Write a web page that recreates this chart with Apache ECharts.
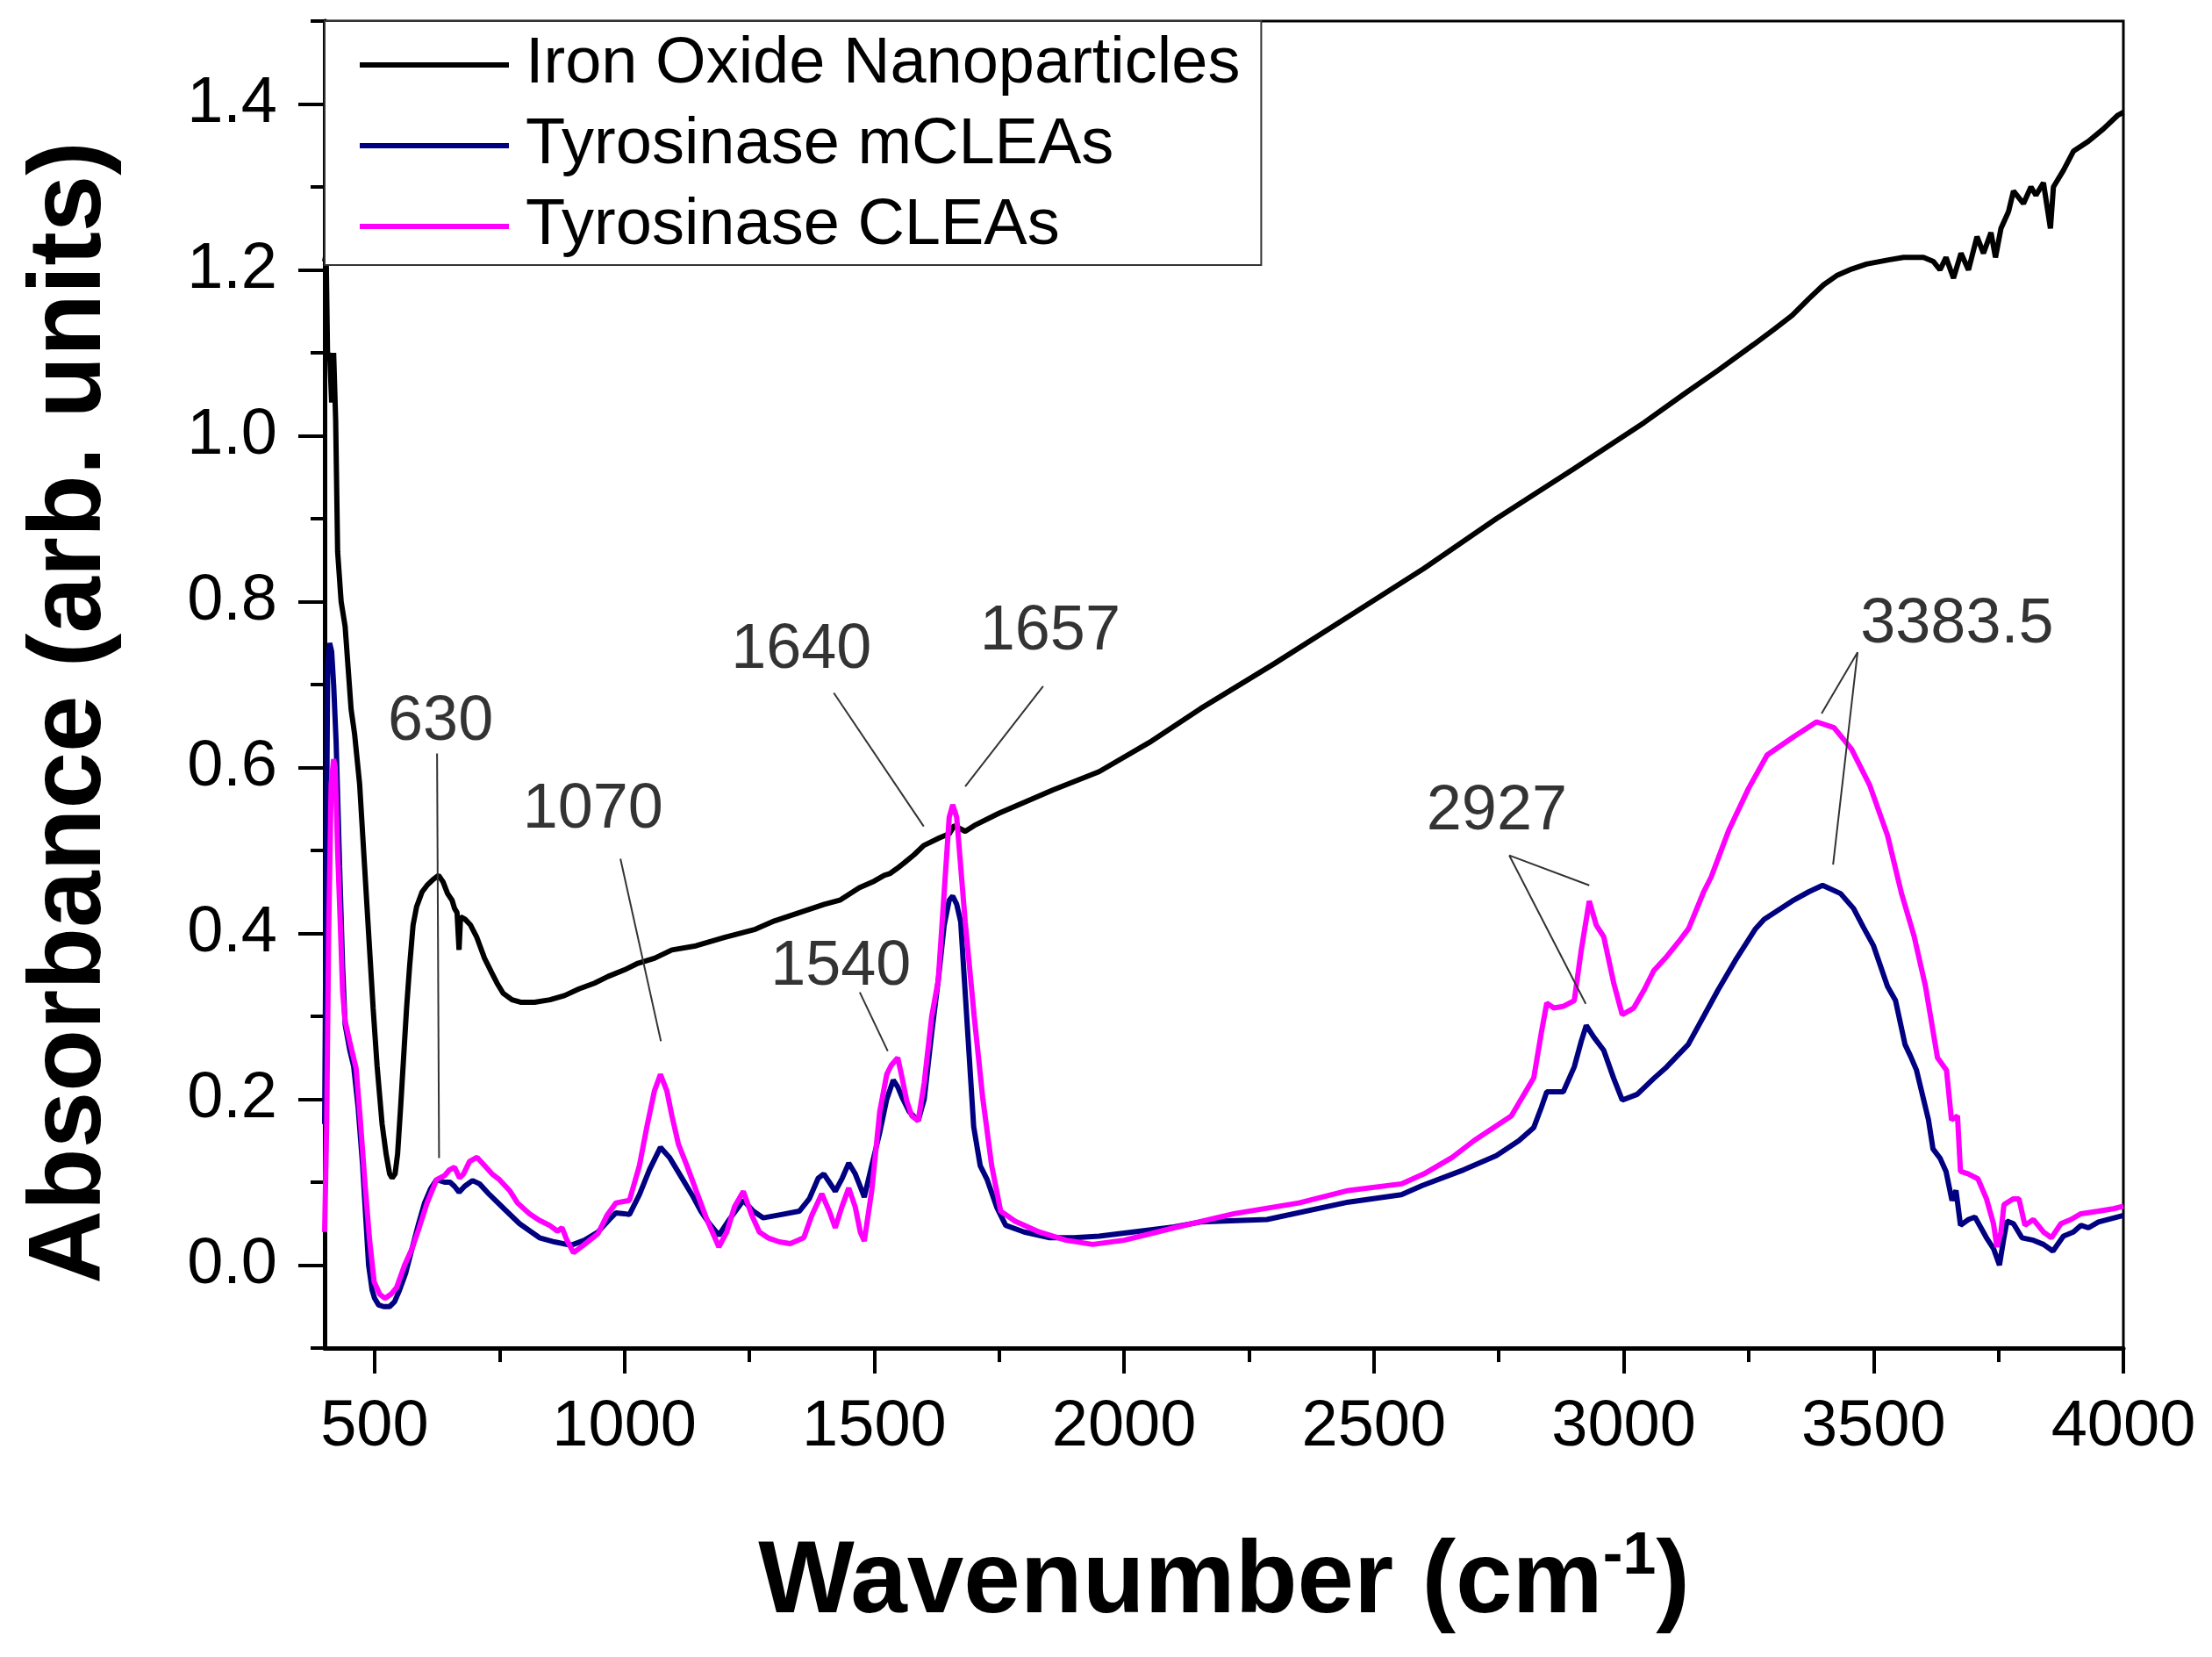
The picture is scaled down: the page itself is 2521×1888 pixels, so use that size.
<!DOCTYPE html>
<html>
<head>
<meta charset="utf-8">
<title>FTIR spectra</title>
<script src="https://cdn.jsdelivr.net/npm/echarts@6/dist/echarts.min.js"></script>
<style>
  html, body { margin: 0; padding: 0; background: #fff; }
  #chart { width: 2521px; height: 1888px; }
</style>
</head>
<body>
<div id="chart"></div>
<script>
// wavenumber (cm-1), absorbance
const ironOxide = [
  [400, 1.21], [403, 1.22], [406, 1.09], [410, 1.10], [414, 1.04], [418, 1.10], [422, 1.02],
  [426, 0.86], [433, 0.80], [441, 0.77], [447, 0.72], [453, 0.67], [460, 0.64], [470, 0.58],
  [480, 0.48], [488, 0.40], [497, 0.31], [505, 0.24], [515, 0.17], [523, 0.134], [530, 0.11],
  [535, 0.105], [541, 0.11], [546, 0.134], [552, 0.19], [558, 0.25], [564, 0.31], [570, 0.36],
  [577, 0.41], [584, 0.432], [595, 0.45], [605, 0.458], [617, 0.465], [628, 0.47], [637, 0.462],
  [646, 0.448], [655, 0.44], [660, 0.43], [665, 0.425], [669, 0.38], [672, 0.42], [681, 0.417],
  [692, 0.41], [704, 0.396], [720, 0.37], [734, 0.353], [745, 0.34], [757, 0.328], [775, 0.32],
  [792, 0.317], [820, 0.317], [851, 0.32], [880, 0.325], [909, 0.333], [940, 0.34], [967, 0.348],
  [1000, 0.356], [1027, 0.364], [1060, 0.37], [1095, 0.38], [1143, 0.385], [1200, 0.395],
  [1262, 0.405], [1300, 0.415], [1350, 0.425], [1400, 0.435], [1431, 0.44], [1470, 0.455],
  [1500, 0.463], [1520, 0.47], [1531, 0.472], [1545, 0.478], [1560, 0.485], [1580, 0.495],
  [1599, 0.506], [1630, 0.515], [1650, 0.52], [1660, 0.53], [1682, 0.523], [1700, 0.53],
  [1750, 0.545], [1800, 0.558], [1858, 0.573], [1950, 0.595], [2050, 0.63], [2153, 0.671],
  [2300, 0.725], [2449, 0.782], [2600, 0.84], [2745, 0.9], [2900, 0.96], [3041, 1.016],
  [3120, 1.05], [3189, 1.079], [3260, 1.11], [3300, 1.128], [3337, 1.145], [3370, 1.165],
  [3400, 1.182], [3426, 1.193], [3456, 1.201], [3486, 1.207], [3530, 1.212], [3560, 1.215],
  [3600, 1.215], [3620, 1.21], [3633, 1.20],
  [3645, 1.215], [3660, 1.19], [3675, 1.22], [3690, 1.20], [3707, 1.24], [3720, 1.22],
  [3735, 1.245], [3744, 1.215], [3755, 1.25], [3770, 1.27], [3780, 1.295], [3800, 1.28],
  [3815, 1.30], [3825, 1.29], [3840, 1.305], [3854, 1.25], [3860, 1.30], [3880, 1.32],
  [3900, 1.343], [3930, 1.355], [3960, 1.37], [3988, 1.386], [4000, 1.39]
];

const mCleas = [
  [400, 0.17], [403, 0.45], [406, 0.72], [410, 0.75], [414, 0.74], [418, 0.70], [423, 0.63],
  [430, 0.48], [436, 0.36], [441, 0.29], [450, 0.26], [458, 0.24], [467, 0.19], [476, 0.12],
  [482, 0.06], [488, 0.0], [495, -0.03], [500, -0.04], [508, -0.048], [518, -0.05], [530, -0.05],
  [540, -0.044], [550, -0.03], [562, -0.01], [575, 0.02], [588, 0.05], [600, 0.075], [612, 0.092],
  [624, 0.103], [640, 0.1], [651, 0.1], [660, 0.095], [669, 0.088], [680, 0.095], [696, 0.102],
  [710, 0.098], [730, 0.085], [759, 0.068], [790, 0.05], [830, 0.033], [860, 0.028], [893, 0.024],
  [920, 0.03], [947, 0.04], [970, 0.055], [983, 0.063], [1000, 0.062], [1010, 0.061],
  [1030, 0.085], [1050, 0.115], [1072, 0.142], [1090, 0.13], [1117, 0.103], [1135, 0.085],
  [1153, 0.065], [1170, 0.05], [1189, 0.036], [1210, 0.055], [1238, 0.078], [1258, 0.065],
  [1278, 0.057], [1314, 0.061], [1350, 0.065], [1370, 0.08], [1388, 0.105], [1399, 0.11],
  [1410, 0.1], [1422, 0.089], [1436, 0.105], [1449, 0.123], [1462, 0.11], [1475, 0.09],
  [1480, 0.082], [1495, 0.12], [1511, 0.16], [1525, 0.2], [1538, 0.223], [1547, 0.215],
  [1556, 0.202], [1570, 0.185], [1588, 0.174], [1600, 0.2], [1615, 0.28], [1628, 0.343],
  [1640, 0.41], [1650, 0.44], [1657, 0.445], [1665, 0.435], [1673, 0.414], [1685, 0.3],
  [1699, 0.167], [1712, 0.12], [1726, 0.103], [1745, 0.07], [1763, 0.048], [1800, 0.04],
  [1851, 0.033], [1900, 0.033], [1950, 0.035], [2018, 0.04], [2100, 0.046], [2153, 0.052],
  [2286, 0.055], [2449, 0.076], [2555, 0.085], [2597, 0.096], [2680, 0.115], [2745, 0.132],
  [2790, 0.15], [2820, 0.166], [2835, 0.19], [2846, 0.209], [2879, 0.209], [2901, 0.239],
  [2915, 0.27], [2925, 0.289], [2940, 0.275], [2960, 0.259], [2980, 0.225], [2997, 0.199],
  [3027, 0.206], [3060, 0.225], [3086, 0.239], [3129, 0.266], [3160, 0.3], [3189, 0.332],
  [3223, 0.367], [3263, 0.405], [3281, 0.417], [3337, 0.439], [3370, 0.45], [3398, 0.458],
  [3434, 0.448], [3460, 0.43], [3480, 0.407], [3500, 0.385], [3528, 0.336], [3544, 0.319],
  [3563, 0.266], [3574, 0.252], [3586, 0.235], [3600, 0.2], [3610, 0.175], [3619, 0.14],
  [3633, 0.129], [3645, 0.113], [3657, 0.078], [3665, 0.09], [3674, 0.048], [3690, 0.055],
  [3703, 0.058], [3715, 0.045], [3726, 0.033], [3740, 0.02], [3752, 0.0], [3760, 0.03],
  [3767, 0.053], [3780, 0.05], [3797, 0.033], [3820, 0.03], [3840, 0.025], [3859, 0.017],
  [3880, 0.035], [3900, 0.04], [3915, 0.048], [3930, 0.045], [3950, 0.052], [3975, 0.056],
  [4000, 0.06]
];

const cleas = [
  [400, 0.04], [404, 0.17], [408, 0.40], [413, 0.58], [418, 0.61], [421, 0.6], [426, 0.5],
  [432, 0.4], [436, 0.33], [441, 0.294], [450, 0.27], [463, 0.237], [472, 0.17], [481, 0.096],
  [490, 0.03], [499, -0.02], [510, -0.035], [521, -0.04], [533, -0.035], [544, -0.027], [560, 0.0],
  [575, 0.02], [588, 0.043], [605, 0.075], [624, 0.103], [640, 0.108], [650, 0.115], [660, 0.118],
  [670, 0.105], [678, 0.11], [690, 0.125], [705, 0.13], [720, 0.12], [735, 0.11], [750, 0.103],
  [770, 0.09], [786, 0.075], [810, 0.062], [830, 0.054], [850, 0.048], [866, 0.041], [875, 0.045],
  [885, 0.03], [898, 0.015], [920, 0.025], [947, 0.038], [965, 0.06], [983, 0.075], [1010, 0.078],
  [1030, 0.12], [1045, 0.167], [1060, 0.21], [1072, 0.23], [1085, 0.21], [1095, 0.18],
  [1108, 0.146], [1125, 0.12], [1144, 0.089], [1165, 0.055], [1189, 0.022], [1205, 0.04],
  [1220, 0.07], [1238, 0.089], [1255, 0.06], [1270, 0.04], [1287, 0.033], [1310, 0.028],
  [1332, 0.026], [1359, 0.033], [1375, 0.06], [1395, 0.086], [1410, 0.065], [1422, 0.045],
  [1435, 0.07], [1449, 0.093], [1462, 0.07], [1472, 0.04], [1480, 0.029], [1495, 0.09],
  [1511, 0.185], [1525, 0.23], [1534, 0.241], [1547, 0.25], [1556, 0.225], [1565, 0.198],
  [1575, 0.18], [1588, 0.174], [1600, 0.22], [1615, 0.3], [1628, 0.343], [1640, 0.45],
  [1650, 0.54], [1657, 0.555], [1665, 0.54], [1682, 0.414], [1700, 0.3], [1717, 0.202],
  [1735, 0.12], [1753, 0.065], [1782, 0.053], [1830, 0.04], [1884, 0.03], [1937, 0.025],
  [2000, 0.03], [2100, 0.045], [2220, 0.062], [2350, 0.075], [2449, 0.09], [2555, 0.098],
  [2600, 0.11], [2657, 0.13], [2700, 0.15], [2775, 0.18], [2820, 0.226], [2835, 0.28],
  [2846, 0.316], [2860, 0.31], [2879, 0.312], [2901, 0.319], [2915, 0.38], [2931, 0.439],
  [2945, 0.41], [2960, 0.396], [2980, 0.34], [2997, 0.302], [3020, 0.31], [3041, 0.332],
  [3060, 0.355], [3086, 0.372], [3110, 0.39], [3130, 0.406], [3160, 0.45], [3175, 0.468],
  [3210, 0.524], [3250, 0.575], [3287, 0.615], [3340, 0.637], [3386, 0.655], [3421, 0.648],
  [3456, 0.622], [3492, 0.579], [3528, 0.518], [3556, 0.448], [3581, 0.397], [3604, 0.336],
  [3628, 0.25], [3646, 0.235], [3656, 0.175], [3668, 0.18], [3674, 0.113], [3690, 0.11],
  [3709, 0.104], [3726, 0.08], [3740, 0.05], [3747, 0.022], [3755, 0.04], [3761, 0.073],
  [3780, 0.08], [3791, 0.08], [3803, 0.048], [3820, 0.055], [3840, 0.04], [3856, 0.033],
  [3875, 0.05], [3895, 0.055], [3915, 0.062], [3950, 0.065], [3980, 0.068], [4000, 0.071]
];

const seriesNames = ['Iron Oxide Nanoparticles', 'Tyrosinase mCLEAs', 'Tyrosinase CLEAs'];
const seriesColors = ['#000000', '#000080', '#ff00ff'];

const xMajorTicks = [500, 1000, 1500, 2000, 2500, 3000, 3500, 4000];
const xMinorTicks = [750, 1250, 1750, 2250, 2750, 3250, 3750];
const yMajorTicks = [0, 0.2, 0.4, 0.6, 0.8, 1.0, 1.2, 1.4];
const yMinorTicks = [-0.1, 0.1, 0.3, 0.5, 0.7, 0.9, 1.1, 1.3, 1.5];

// peak labels: text and where it sits (wavenumber, absorbance)
const peakLabels = [
  ['630', 632, 0.654],
  ['1070', 937, 0.548],
  ['1640', 1354, 0.741],
  ['1657', 1852, 0.763],
  ['1540', 1433, 0.359],
  ['2927', 2746, 0.546],
  ['3383.5', 3667, 0.772]
];

// leader lines from each label to its peak(s)
const leaders = [
  [[625, 0.617], [629, 0.129]],
  [[992, 0.49], [1073, 0.27]],
  [[1419, 0.690], [1599, 0.529]],
  [[1838, 0.698], [1682, 0.577]],
  [[1471, 0.329], [1527, 0.258]],
  [[2931, 0.458], [2771, 0.494], [2924, 0.315]],
  [[3396, 0.665], [3468, 0.739], [3419, 0.483]]
];

const FONT = '"Liberation Sans", Arial, sans-serif';

const chart = echarts.init(document.getElementById('chart'), null, { renderer: 'canvas' });

const spectra = [ironOxide, mCleas, cleas].map((data, i) => ({
  name: seriesNames[i],
  type: 'line',
  data: data,
  showSymbol: false,
  symbol: 'none',
  animation: false,
  lineStyle: { color: seriesColors[i], width: 6 },
  itemStyle: { color: seriesColors[i] },
  z: 3 + i
}));

const leaderSeries = leaders.map((pts) => ({
  type: 'line',
  data: pts,
  showSymbol: false,
  symbol: 'none',
  animation: false,
  silent: true,
  lineStyle: { color: '#333', width: 2 },
  z: 8
}));

const labelSeries = {
  type: 'scatter',
  data: peakLabels.map((p) => ({ name: p[0], value: [p[1], p[2]] })),
  symbolSize: 1,
  itemStyle: { color: 'rgba(0,0,0,0)' },
  animation: false,
  silent: true,
  label: {
    show: true,
    position: 'inside',
    formatter: (p) => p.name,
    fontFamily: FONT,
    fontSize: 72,
    color: '#000'
  },
  z: 9
};

const axisFont = { fontFamily: FONT, fontSize: 74, color: '#000' };

const option = {
  animation: false,
  backgroundColor: '#fff',
  grid: {
    left: 370, right: 101, top: 24, bottom: 352,
    show: true, borderColor: '#000', borderWidth: 3, backgroundColor: 'transparent'
  },
  legend: {
    data: seriesNames,
    orient: 'vertical',
    left: 370,
    top: 24,
    icon: 'rect',
    itemWidth: 170,
    itemHeight: 6,
    itemGap: 12,
    padding: [10, 24, 4, 40],
    borderColor: '#333',
    borderWidth: 2,
    backgroundColor: '#fff',
    textStyle: { fontFamily: FONT, fontSize: 74, color: '#000', lineHeight: 80, padding: [0, 0, 0, 14] }
  },
  xAxis: [
    {
      type: 'value', min: 400, max: 4000, position: 'bottom',
      axisLine: { show: true, onZero: false, lineStyle: { color: '#000', width: 5 } },
      axisTick: { show: true, inside: false, length: 29, lineStyle: { color: '#000', width: 4 }, customValues: xMajorTicks },
      axisLabel: { show: true, margin: 54, customValues: xMajorTicks, formatter: (v) => String(v), ...axisFont },
      splitLine: { show: false },
      name: '{a|Wavenumber (cm}{b|-1}{a|)}',
      nameLocation: 'middle',
      nameGap: 204,
      nameTextStyle: {
        rich: {
          a: { fontFamily: FONT, fontSize: 116, fontWeight: 'bold', color: '#000', lineHeight: 130 },
          b: { fontFamily: FONT, fontSize: 68, fontWeight: 'bold', color: '#000', lineHeight: 30, verticalAlign: 'top' }
        }
      }
    },
    {
      type: 'value', min: 400, max: 4000, position: 'bottom',
      axisLine: { show: false, onZero: false },
      axisTick: { show: true, inside: false, length: 16, lineStyle: { color: '#000', width: 4 }, customValues: xMinorTicks },
      axisLabel: { show: false },
      splitLine: { show: false }
    }
  ],
  yAxis: [
    {
      type: 'value', min: -0.1, max: 1.5, position: 'left',
      axisLine: { show: true, onZero: false, lineStyle: { color: '#000', width: 5 } },
      axisTick: { show: true, inside: false, length: 30, lineStyle: { color: '#000', width: 4 }, customValues: yMajorTicks },
      axisLabel: { show: true, margin: 54, customValues: yMajorTicks, formatter: (v) => v.toFixed(1), ...axisFont },
      splitLine: { show: false },
      name: 'Absorbance (arb. units)',
      nameLocation: 'middle',
      nameGap: 230,
      nameTextStyle: { fontFamily: FONT, fontSize: 116, fontWeight: 'bold', color: '#000', padding: [0, 64, 0, 0] }
    },
    {
      type: 'value', min: -0.1, max: 1.5, position: 'left',
      axisLine: { show: false, onZero: false },
      axisTick: { show: true, inside: false, length: 16, lineStyle: { color: '#000', width: 4 }, customValues: yMinorTicks },
      axisLabel: { show: false },
      splitLine: { show: false }
    }
  ],
  series: [...spectra, ...leaderSeries, labelSeries]
};

chart.setOption(option);
</script>
</body>
</html>
